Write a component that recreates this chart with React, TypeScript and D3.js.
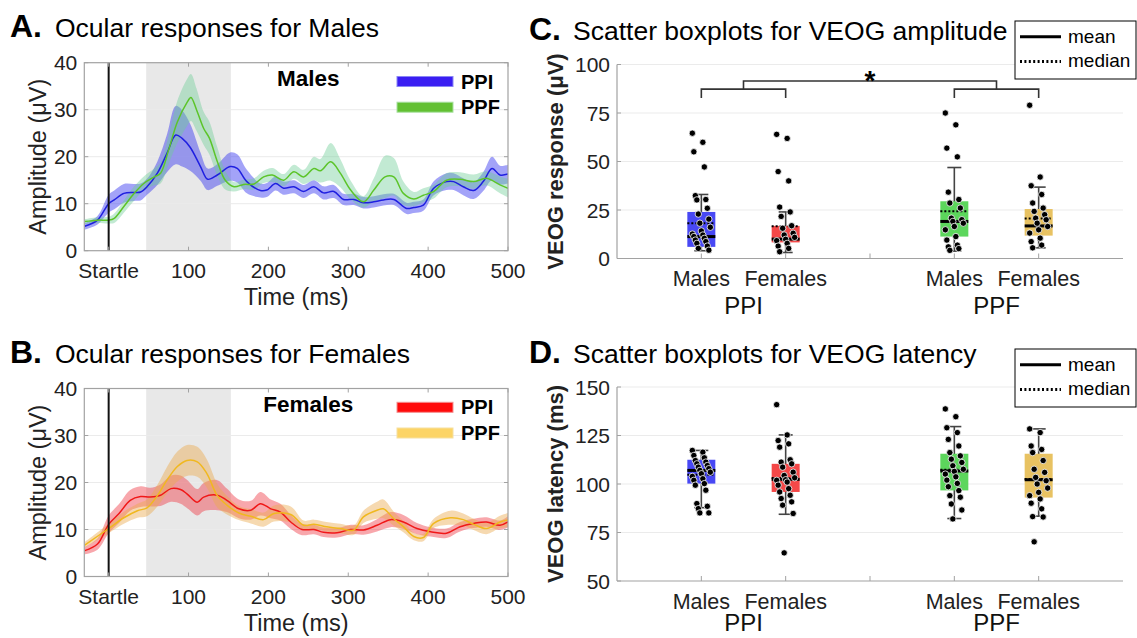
import React from 'react';
import * as d3 from 'd3';

const FONT = '"Liberation Sans", Arial, Helvetica, sans-serif';

// ---------- A / B : ocular time courses ----------
const malesPPI_t = [-30, -14, 0, 7, 19, 32, 40, 48, 61, 73, 84, 92, 102, 115, 124, 136, 152, 161, 173, 190, 198, 209, 219, 232, 244, 257, 269, 282, 294, 307, 319, 332, 344, 357, 373, 382, 394, 407, 423, 432, 444, 457, 469, 480, 490, 500];
const malesPPI_mean = [5.2, 6.5, 10, 10.8, 12.2, 12.4, 12.5, 13.6, 16.5, 20.7, 24.6, 23.9, 22, 17.9, 15.2, 16.1, 17.9, 17.5, 14.7, 12.8, 12.9, 14.3, 13.3, 13.6, 12.6, 13.6, 12.3, 12.6, 10.9, 10.9, 10.2, 10.4, 10.8, 10.9, 9.0, 9.2, 9.7, 13.3, 14.7, 14.7, 13.6, 12.8, 14.7, 17.5, 16.1, 16.3];
const malesPPI_sem = [0.7, 0.9, 1.9, 2, 2, 1.8, 1.8, 1.7, 2.5, 4, 6.2, 6, 5, 3, 2.3, 2.3, 3, 3, 2.5, 1.5, 1.5, 1.5, 1.4, 1.4, 1.4, 1.4, 1.4, 1.4, 1.2, 1.2, 1.2, 1.2, 1.2, 1.2, 1.2, 1.2, 1.2, 1.5, 1.8, 1.8, 1.8, 1.8, 2, 2.5, 2, 2];

const malesPPF_t = [-30, -14, 0, 7, 19, 32, 44, 57, 65, 75, 86, 98, 103, 110, 119, 126, 136, 146, 157, 169, 182, 194, 205, 219, 232, 244, 257, 265, 278, 290, 303, 319, 332, 346, 357, 369, 382, 394, 407, 423, 440, 457, 473, 490, 500];
const malesPPF_mean = [6.2, 6.5, 6.5, 6.9, 9.4, 12.2, 14.3, 15.7, 16.5, 21.4, 27.4, 31.5, 32.6, 30, 26, 24, 19, 15, 13.6, 14.1, 14.2, 15.7, 16.1, 15.0, 16.8, 15.7, 17.5, 17.0, 18.9, 16.5, 12.9, 10.4, 12.9, 15.7, 15.7, 12.2, 11.0, 11.8, 12.6, 15.0, 15.2, 14.7, 15.4, 14.0, 13.3];
const malesPPF_sem = [0.5, 0.6, 0.7, 1, 1.3, 1.5, 1.5, 1.8, 2.2, 3, 4.5, 5, 5, 4.5, 3.5, 3.5, 3, 2, 1, 1, 1.2, 1.3, 1.5, 1.3, 1.5, 1.5, 2.5, 2.5, 4, 3, 2, 1.2, 2.5, 4.5, 4, 2.5, 1.5, 1.5, 1.5, 1.5, 1.5, 1.5, 1.5, 1.8, 2];

const femalesPPI_t = [-30, -14, 0, 13, 27, 40, 52, 65, 78, 90, 98, 111, 119, 136, 148, 163, 178, 190, 203, 215, 228, 242, 257, 269, 286, 303, 319, 336, 353, 369, 386, 403, 423, 440, 457, 473, 490, 500];
const femalesPPI_mean = [5.5, 6.9, 11.1, 13.4, 16.2, 17.0, 16.9, 17.3, 18.7, 18.5, 17.6, 15.8, 16.9, 17.3, 16.2, 14.4, 14.1, 15.5, 14.4, 13.7, 11.6, 10.0, 10.0, 9.4, 9.3, 10.0, 9.9, 10.9, 12.1, 11.6, 10.2, 9.5, 9.2, 10.6, 11.3, 11.6, 10.9, 11.6];
const femalesPPI_sem = [0.8, 1.2, 1.9, 2, 2.2, 2.2, 2, 2.3, 2.8, 3, 3, 2.8, 3, 3.2, 2.5, 2, 2, 2.5, 2, 1.8, 1.5, 1.2, 1, 1, 1, 1, 1, 1.3, 1.6, 1.5, 1.2, 1, 1, 1, 1, 1, 1, 1.2];

const femalesPPF_t = [-30, 0, 19, 36, 48, 61, 73, 86, 98, 111, 123, 136, 148, 163, 178, 194, 207, 228, 244, 257, 273, 290, 307, 319, 336, 344, 357, 369, 382, 394, 407, 428, 444, 457, 473, 490, 500];
const femalesPPF_mean = [6.7, 10.2, 12.5, 14, 14.6, 17.2, 20.5, 23.4, 24.7, 24.4, 21.9, 17.2, 15.2, 13.5, 12.8, 12.1, 13.4, 13.2, 10.9, 11.1, 10.6, 10.2, 9.9, 12.7, 14.1, 14.4, 12.3, 10.6, 8.5, 8.3, 11.3, 12.5, 12.1, 11.1, 10.2, 11.6, 12.0];
const femalesPPF_sem = [0.6, 1, 1.3, 1.5, 1.8, 2.3, 2.8, 3.2, 3.3, 3.2, 3, 2.5, 2, 1.5, 1.5, 1.5, 1.7, 1.7, 1, 1, 1, 1, 1, 1.3, 1.8, 2, 1.5, 1.2, 0.8, 0.8, 1, 1.5, 1.3, 1.2, 1.2, 1.3, 1.5];

const timeTicks = [0, 100, 200, 300, 400, 500];
const timeTickLabels = ['Startle', '100', '200', '300', '400', '500'];
const ampTicks = [0, 10, 20, 30, 40];
const shadeWindow = [47, 153];

// ---------- C / D : scatter boxplots ----------
const groupNames = ['Males', 'Females', 'Males', 'Females'];
const groupPos = [1, 2, 4, 5];
const conditionNames = ['PPI', 'PPF'];
const conditionPos = [1.5, 4.5];
const boxColors = ['#4848f4', '#f44848', '#5cd65c', '#e8c262'];

const ampPoints = [
  [64.6, 59.9, 55.0, 47.2, 32.4, 30.4, 30.2, 25.9, 22.9, 20.3, 18.2, 16.1, 14.2, 12.6, 12.1, 11.3, 10.4, 9.5, 8.7, 7.8, 6.4, 5.2, 4.3],
  [64.0, 61.9, 44.8, 40.0, 26.5, 24.0, 21.7, 16.9, 15.6, 13.0, 12.1, 10.9, 9.9, 9.2, 7.8, 6.4, 5.2, 3.5],
  [75.0, 68.9, 56.9, 52.4, 34.2, 30.4, 28.6, 26, 20.8, 20, 19.1, 18.2, 16.5, 14.8, 11.3, 9.5, 6.9, 6, 5.1, 4.2],
  [79, 42, 37.5, 33, 28.6, 26, 24.3, 22.6, 20.8, 20, 18.2, 16.5, 14.8, 13.1, 10.5, 8.7, 6.9, 5.5],
];
const ampQ1 = [6.0, 8.3, 11.3, 11.8];
const ampQ3 = [24.0, 16.8, 29.5, 25.5];
const ampWhiskLo = [4.0, 3.1, 3.8, 5.5];
const ampWhiskHi = [33.0, 24.0, 46.9, 36.8];
const ampMean = [11.3, 10.0, 19.1, 16.8];
const ampMedian = [18.2, 16.6, 24.3, 20.6];
const ampTicksC = [0, 25, 50, 75, 100];

const latPoints = [
  [117.3, 116.4, 114.7, 113.5, 112.1, 111.3, 110.4, 109.5, 108.7, 107.9, 107, 106.1, 105.3, 103.9, 102.7, 101.9, 100.2, 99.4, 96.8, 89.9, 88.5, 87.3, 85.1, 85.1],
  [140.9, 125.3, 122.4, 120.7, 119, 112.5, 111.3, 110.4, 108.7, 106.1, 104.4, 103.2, 102.2, 101.9, 101, 99.4, 97.6, 95.9, 94.2, 92.5, 90.8, 89.1, 84.8, 64.5],
  [138.7, 134.7, 129, 126.5, 123, 119.6, 116.2, 114.5, 112.8, 111.1, 109.4, 107.6, 106.5, 105.1, 103.7, 102, 100.3, 98.6, 96.6, 94, 93.2, 89.7, 86.6, 82],
  [128.4, 126.5, 119.6, 117.8, 116.2, 112.1, 107.6, 106, 103.4, 101.7, 100, 97.9, 95.7, 94, 92.3, 90.1, 87.2, 83.2, 83, 70.2],
];
const latQ1 = [100.2, 95.9, 96.7, 93.0];
const latQ3 = [112.5, 110.4, 115.6, 115.6];
const latWhiskLo = [87.8, 84.4, 82.2, 83.4];
const latWhiskHi = [117.3, 125.3, 129.6, 128.4];
const latMean = [107.0, 102.4, 106.7, 102.2];
const latMedian = [104.8, 103.1, 107.4, 102.6];
const latTicks = [50, 75, 100, 125, 150];

interface Series {
  name: string;
  t: number[];
  mean: number[];
  sem: number[];
  line: string;
  band: string;
  swatch: string;
  swatchEdge: string;
}

const AXIS_GRAY = '#a2a2a2';
const GRID = '#ebebeb';

const TimePanel: React.FC<{ top: number; letter: string; title: string; label: string; series: Series[]; id: string }> = ({ top, letter, title, label, series, id }) => {
  const height = 188;
  const x = d3.scaleLinear().domain([-30.5, 500]).range([84.3, 508]);
  const y = d3.scaleLinear().domain([0, 40]).range([top + height, top]);
  const curve = d3.curveCatmullRom.alpha(0.5);

  const left = x.range()[0], right = x.range()[1], bottom = top + height;

  return (
    <g fontFamily={FONT}>
      <text x={10} y={top - 26} fontSize={32} fontWeight="bold">{letter}</text>
      <text x={55} y={top - 26} fontSize={26.5}>{title}</text>

      <clipPath id={id}>
        <rect x={left} y={top} width={right - left} height={height} />
      </clipPath>
      <rect x={left} y={top} width={right - left} height={height} fill="#fff" />
      <rect x={x(shadeWindow[0])} y={top} width={x(shadeWindow[1]) - x(shadeWindow[0])} height={height} fill="#e8e8e8" />
      {ampTicks.slice(1, -1).map(v => (
        <line key={v} x1={left} x2={right} y1={y(v)} y2={y(v)} stroke={GRID} strokeWidth={1} />
      ))}

      <g clipPath={`url(#${id})`}>
        {series.map(s => {
          const pts = s.t.map((t, i) => ({ t, m: s.mean[i], e: s.sem[i] }));
          const area = d3.area<typeof pts[0]>().x(d => x(d.t)).y0(d => y(d.m - d.e)).y1(d => y(d.m + d.e)).curve(curve);
          return <path key={s.name + 'b'} d={area(pts) || ''} fill={s.band} stroke="none" />;
        })}
        {series.map(s => {
          const pts = s.t.map((t, i) => ({ t, m: s.mean[i] }));
          const line = d3.line<typeof pts[0]>().x(d => x(d.t)).y(d => y(d.m)).curve(curve);
          return <path key={s.name + 'l'} d={line(pts) || ''} fill="none" stroke={s.line} strokeWidth={1.5} />;
        })}
      </g>

      <line x1={x(0)} x2={x(0)} y1={top} y2={bottom} stroke="#111" strokeWidth={2} />

      <rect x={left} y={top} width={right - left} height={height} fill="none" stroke={AXIS_GRAY} strokeWidth={1.2} />
      {timeTicks.map(t => (
        <g key={t}>
          <line x1={x(t)} x2={x(t)} y1={bottom} y2={bottom - 4} stroke={AXIS_GRAY} />
          <line x1={x(t)} x2={x(t)} y1={top} y2={top + 4} stroke={AXIS_GRAY} />
        </g>
      ))}
      {ampTicks.map(v => (
        <g key={v}>
          <line x1={left} x2={left + 4} y1={y(v)} y2={y(v)} stroke={AXIS_GRAY} />
          <line x1={right} x2={right - 4} y1={y(v)} y2={y(v)} stroke={AXIS_GRAY} />
          <text x={left - 7} y={y(v)} dy="0.36em" textAnchor="end" fontSize={21} fill="#222">{v}</text>
        </g>
      ))}
      {timeTicks.map((t, i) => (
        <text key={t} x={x(t)} y={bottom + 27} textAnchor="middle" fontSize={21} fill="#222">{timeTickLabels[i]}</text>
      ))}
      <text x={(left + right) / 2} y={bottom + 54} textAnchor="middle" fontSize={23.5} fill="#222">Time (ms)</text>
      <text transform={`translate(38,${top + height / 2}) rotate(-90)`} textAnchor="middle" dy="0.35em" fontSize={23.5} fill="#222">Amplitude (μV)</text>

      <text x={x(250)} y={top + 23} textAnchor="middle" fontSize={22.5} fontWeight="bold">{label}</text>
      {series.map((s, i) => {
        const cy = top + 18.8 + i * 25.7;
        return (
          <g key={s.name + 'lg'}>
            <rect x={397} y={cy - 5} width={56} height={10} fill={s.swatch} stroke={s.swatchEdge} strokeWidth={1} />
            <text x={461} y={cy + 7} fontSize={20} fontWeight="bold">{s.name}</text>
          </g>
        );
      })}
    </g>
  );
};

interface BoxStats {
  points: number[][];
  q1: number[];
  q3: number[];
  lo: number[];
  hi: number[];
  mean: number[];
  median: number[];
}

const jitter = (i: number) => (((i * 7) % 13) - 6) * 1.5;

const BoxPanel: React.FC<{
  top: number; letter: string; title: string; yLabel: string; domain: [number, number]; ticks: number[];
  stats: BoxStats; legendTop: number; condOffset: number; bracket?: boolean;
}> = ({ top, letter, title, yLabel, domain, ticks, stats, legendTop, condOffset, bracket }) => {
  const height = 194;
  const bottom = top + height;
  const x = d3.scaleLinear().domain([0, 6]).range([617, 1123]);
  const y = d3.scaleLinear().domain(domain).range([bottom, top]);
  const left = 617, right = 1123;
  const bw = 28;

  return (
    <g fontFamily={FONT}>
      <text x={529} y={top - 24.5} fontSize={32} fontWeight="bold">{letter}</text>
      <text x={573} y={top - 24.5} fontSize={26.5}>{title}</text>

      {ticks.slice(1).map(v => (
        <line key={v} x1={left} x2={right} y1={y(v)} y2={y(v)} stroke={GRID} strokeWidth={1.2} />
      ))}
      <line x1={left} x2={left} y1={top} y2={bottom} stroke={AXIS_GRAY} strokeWidth={1.2} />
      <line x1={left} x2={right} y1={bottom} y2={bottom} stroke={AXIS_GRAY} strokeWidth={1.2} />
      {ticks.map(v => (
        <g key={v}>
          <line x1={left} x2={left + 4} y1={y(v)} y2={y(v)} stroke={AXIS_GRAY} />
          <text x={left - 7} y={y(v)} dy="0.36em" textAnchor="end" fontSize={21} fill="#222">{v}</text>
        </g>
      ))}
      {[1, 2, 3, 4, 5].map(p => (
        <line key={p} x1={x(p)} x2={x(p)} y1={bottom} y2={bottom - 5} stroke={AXIS_GRAY} />
      ))}

      {groupPos.map((p, g) => {
        const cx = x(p);
        return (
          <g key={g}>
            <line x1={cx} x2={cx} y1={y(stats.lo[g])} y2={y(stats.hi[g])} stroke="#444" strokeWidth={1.6} />
            <line x1={cx - 7} x2={cx + 7} y1={y(stats.lo[g])} y2={y(stats.lo[g])} stroke="#444" strokeWidth={1.6} />
            <line x1={cx - 7} x2={cx + 7} y1={y(stats.hi[g])} y2={y(stats.hi[g])} stroke="#444" strokeWidth={1.6} />
            <rect x={cx - bw / 2} y={y(stats.q3[g])} width={bw} height={y(stats.q1[g]) - y(stats.q3[g])} fill={boxColors[g]} />
            <line x1={cx - bw / 2} x2={cx + bw / 2} y1={y(stats.median[g])} y2={y(stats.median[g])} stroke="#000" strokeWidth={2} strokeDasharray="2,2" />
            <line x1={cx - bw / 2} x2={cx + bw / 2} y1={y(stats.mean[g])} y2={y(stats.mean[g])} stroke="#000" strokeWidth={3} />
            {stats.points[g].map((v, i) => (
              <circle key={i} cx={cx + jitter(i)} cy={y(v)} r={3.2} fill="#000" stroke="#fff" strokeWidth={0.8} />
            ))}
          </g>
        );
      })}

      {groupPos.map((p, g) => (
        <text key={g} x={x(p)} y={bottom + 27.5} textAnchor="middle" fontSize={21.5} fill="#222">{groupNames[g]}</text>
      ))}
      {conditionPos.map((p, c) => (
        <text key={c} x={x(p)} y={bottom + condOffset} textAnchor="middle" fontSize={24} fill="#111">{conditionNames[c]}</text>
      ))}
      <text transform={`translate(555,${top + height / 2}) rotate(-90)`} textAnchor="middle" dy="0.35em" fontSize={22} fontWeight="bold" fill="#222">{yLabel}</text>

      {bracket && (
        <g stroke="#333" strokeWidth={1.6} fill="none">
          <path d={`M${x(1)},${y(82.7)}V${y(87.3)}H${x(2)}V${y(82.7)}`} />
          <path d={`M${x(4)},${y(82.7)}V${y(87.3)}H${x(5)}V${y(82.7)}`} />
          <path d={`M${x(1.5)},${y(87.3)}V${y(91.5)}H${x(4.5)}V${y(87.3)}`} />
        </g>
      )}
      {bracket && (
        <text x={x(3)} y={y(91.5) + 9} textAnchor="middle" fontSize={28} fontWeight="bold">*</text>
      )}

      <g>
        <rect x={1015} y={legendTop} width={121} height={58} fill="#fff" stroke="#000" strokeWidth={1} />
        <line x1={1020} x2={1061} y1={legendTop + 15.7} y2={legendTop + 15.7} stroke="#000" strokeWidth={3} />
        <line x1={1020} x2={1061} y1={legendTop + 40.5} y2={legendTop + 40.5} stroke="#000" strokeWidth={3} strokeDasharray="2,2.4" />
        <text x={1068} y={legendTop + 21.5} fontSize={19}>mean</text>
        <text x={1068} y={legendTop + 46} fontSize={19}>median</text>
      </g>
    </g>
  );
};

const maleSeries: Series[] = [
  { name: 'PPI', t: malesPPI_t, mean: malesPPI_mean, sem: malesPPI_sem, line: '#1f1fe0', band: 'rgba(50,50,240,0.45)', swatch: '#3a1ef2', swatchEdge: '#8a86f5' },
  { name: 'PPF', t: malesPPF_t, mean: malesPPF_mean, sem: malesPPF_sem, line: '#5cc42a', band: 'rgba(110,205,150,0.42)', swatch: '#62c032', swatchEdge: '#a8e0a0' },
];
const femaleSeries: Series[] = [
  { name: 'PPI', t: femalesPPI_t, mean: femalesPPI_mean, sem: femalesPPI_sem, line: '#f01818', band: 'rgba(240,60,70,0.45)', swatch: '#ff0a0a', swatchEdge: '#f49090' },
  { name: 'PPF', t: femalesPPF_t, mean: femalesPPF_mean, sem: femalesPPF_sem, line: '#f0b820', band: 'rgba(236,170,80,0.45)', swatch: '#fcd466', swatchEdge: '#f6e0a0' },
];

export default function App() {
  return (
    <svg width={1137} height={638} style={{ position: 'absolute', left: 0, top: 0, background: '#fff' }}>
      <rect width={1137} height={638} fill="#fff" />
      <TimePanel id="clipA" top={62.7} letter="A." title="Ocular responses for Males" label="Males" series={maleSeries} />
      <TimePanel id="clipB" top={388.5} letter="B." title="Ocular responses for Females" label="Females" series={femaleSeries} />
      <BoxPanel top={64.5} letter="C." title="Scatter boxplots for VEOG amplitude" yLabel="VEOG response (μV)" domain={[0, 100]} ticks={ampTicksC}
        stats={{ points: ampPoints, q1: ampQ1, q3: ampQ3, lo: ampWhiskLo, hi: ampWhiskHi, mean: ampMean, median: ampMedian }} legendTop={21} condOffset={55} bracket />
      <BoxPanel top={387} letter="D." title="Scatter boxplots for VEOG latency" yLabel="VEOG latency (ms)" domain={[50, 150]} ticks={latTicks}
        stats={{ points: latPoints, q1: latQ1, q3: latQ3, lo: latWhiskLo, hi: latWhiskHi, mean: latMean, median: latMedian }} legendTop={349} condOffset={50} />
    </svg>
  );
}
